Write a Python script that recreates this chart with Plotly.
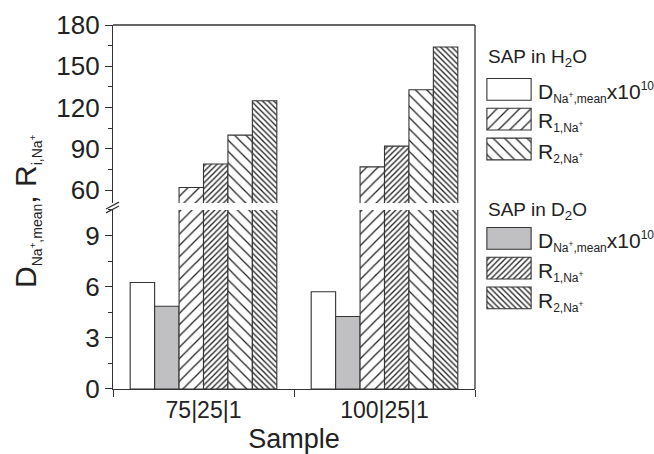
import plotly.graph_objects as go

categories = ["75|25|1", "100|25|1"]
d_h2o = [6.25, 5.7]
d_d2o = [4.85, 4.25]
r1_h2o = [62, 77]
r1_d2o = [79, 92]
r2_h2o = [100, 133]
r2_d2o = [125, 164]

legend_rows = {"d_h2o": 0, "r1_h2o": 1, "r2_h2o": 2, "d_d2o": 5, "r1_d2o": 6, "r2_d2o": 7}

FONT = "Liberation Sans"
LINE = "#333333"
TXT = "#222222"

series = [
    ("d_h2o", d_h2o, "white", "", 8, 0.15),
    ("d_d2o", d_d2o, "#c0c0c2", "", 8, 0.15),
    ("r1_h2o", r1_h2o, "white", "/", 8, 0.16),
    ("r1_d2o", r1_d2o, "white", "/", 4, 0.33),
    ("r2_h2o", r2_h2o, "white", "\\", 8, 0.16),
    ("r2_d2o", r2_d2o, "white", "\\", 4, 0.33),
]

def marker(fill, shape, size, sol):
    m = dict(color=fill, line=dict(color=LINE, width=1.1))
    if shape:
        m["pattern"] = dict(shape=shape, size=size, solidity=sol,
                            fgcolor="#222222", bgcolor="white", fillmode="replace")
    return m

fig = go.Figure()
for key, vals, fill, shape, size, sol in series:
    for xa, ya in (("x", "y"), ("x2", "y2")):
        fig.add_trace(go.Bar(x=categories, y=vals, xaxis=xa, yaxis=ya,
                             marker=marker(fill, shape, size, sol), showlegend=False))
    fig.add_trace(go.Bar(x=[1], y=[legend_rows[key]], orientation="h", width=0.73,
                         xaxis="x3", yaxis="y3", marker=marker(fill, shape, size, sol),
                         showlegend=False, hoverinfo="skip"))

W, H = 654, 454
ml, mr, mt, mb = 113, 2, 25, 61
pw = W - ml - mr
ph = H - mt - mb
xmain_end = 362 / pw

def px(xp):
    return (xp - ml) / pw

def py(yp):
    return (H - mb - yp) / ph

common_y = dict(showline=True, linecolor=LINE, linewidth=1.3, ticks="outside",
                ticklen=7, tickwidth=1.3, tickcolor=LINE, showgrid=False, zeroline=False,
                tickfont=dict(family=FONT, size=26, color=TXT))

fig.update_layout(
    width=W, height=H, margin=dict(l=ml, r=mr, t=mt, b=mb),
    paper_bgcolor="white", plot_bgcolor="white",
    font=dict(family=FONT, color=TXT),
    barmode="group", bargap=0.19, bargroupgap=0,
    xaxis=dict(domain=[0, xmain_end], anchor="y", type="category",
               showline=True, linecolor=LINE, linewidth=1.3,
               ticks="outside", ticklen=7, tickwidth=1.3, tickcolor=LINE,
               tickson="boundaries", showgrid=False,
               tickfont=dict(family=FONT, size=23, color=TXT),
               title=dict(text="Sample", font=dict(family=FONT, size=27, color=TXT), standoff=10)),
    xaxis2=dict(domain=[0, xmain_end], anchor="y2", matches="x", type="category", visible=False),
    yaxis=dict(domain=[0, py(212)], anchor="x", range=[0, 10.5], dtick=3, tick0=0,
               minor=dict(dtick=1.5, ticks="outside", ticklen=4, tickcolor=LINE, tickwidth=1.2),
               **common_y),
    yaxis2=dict(domain=[py(205), 1], anchor="x2", range=[50.7, 180], dtick=30, tick0=0,
                minor=dict(dtick=15, ticks="outside", ticklen=4, tickcolor=LINE, tickwidth=1.2),
                **common_y),
    xaxis3=dict(domain=[px(486), px(532)], anchor="y3", range=[-0.02, 1.02], visible=False),
    yaxis3=dict(domain=[py(316), py(75)], anchor="x3", range=[7.5, -0.5], visible=False),
)

# frame lines: top and right
fig.add_shape(type="line", xref="x domain", yref="paper", x0=0, x1=1, y0=1, y1=1,
              line=dict(color=LINE, width=1.3))
fig.add_shape(type="line", xref="x domain", yref="paper", x0=1, x1=1, y0=0, y1=1,
              line=dict(color=LINE, width=1.3))
# axis break marks
for yo in (0, 4):
    fig.add_shape(type="line", xref="paper", yref="paper",
                  x0=px(106), y0=py(211 + yo), x1=px(119), y1=py(204 + yo),
                  line=dict(color=LINE, width=1.3))

def small(t, s):
    return "<span style='font-size:%dpx'>%s</span>" % (s, t)

# y title
fig.add_annotation(xref="paper", yref="paper", x=px(27), y=py(214), textangle=-90,
                   text="D<sub>" + small("Na<sup>+</sup>,mean", 14) + "</sub>, R<sub>"
                        + small("i,Na<sup>+</sup>", 14) + "</sub>",
                   showarrow=False, xanchor="center", yanchor="middle",
                   font=dict(family=FONT, size=30, color=TXT))

# legend texts
fig.add_annotation(xref="paper", yref="paper", x=px(486), y=py(58), xanchor="left", yanchor="middle",
                   text="SAP in H<sub>2</sub>O", showarrow=False,
                   font=dict(family=FONT, size=19, color=TXT))
fig.add_annotation(xref="paper", yref="paper", x=px(486), y=py(213), xanchor="left", yanchor="middle",
                   text="SAP in D<sub>2</sub>O", showarrow=False,
                   font=dict(family=FONT, size=19, color=TXT))
labels = ["D<sub>" + small("Na<sup>+</sup>,mean", 12) + "</sub>x10<sup>" + small("10", 12) + "</sup>",
          "R<sub>" + small("1,Na<sup>+</sup>", 12) + "</sub>",
          "R<sub>" + small("2,Na<sup>+</sup>", 12) + "</sub>"]
for base in (90, 241):
    for i, lab in enumerate(labels):
        fig.add_annotation(xref="paper", yref="paper", x=px(536), y=py(base + 30.5 * i + 3),
                           xanchor="left", yanchor="middle", text=lab, showarrow=False,
                           font=dict(family=FONT, size=21, color=TXT))

fig.write_html("out.html")
